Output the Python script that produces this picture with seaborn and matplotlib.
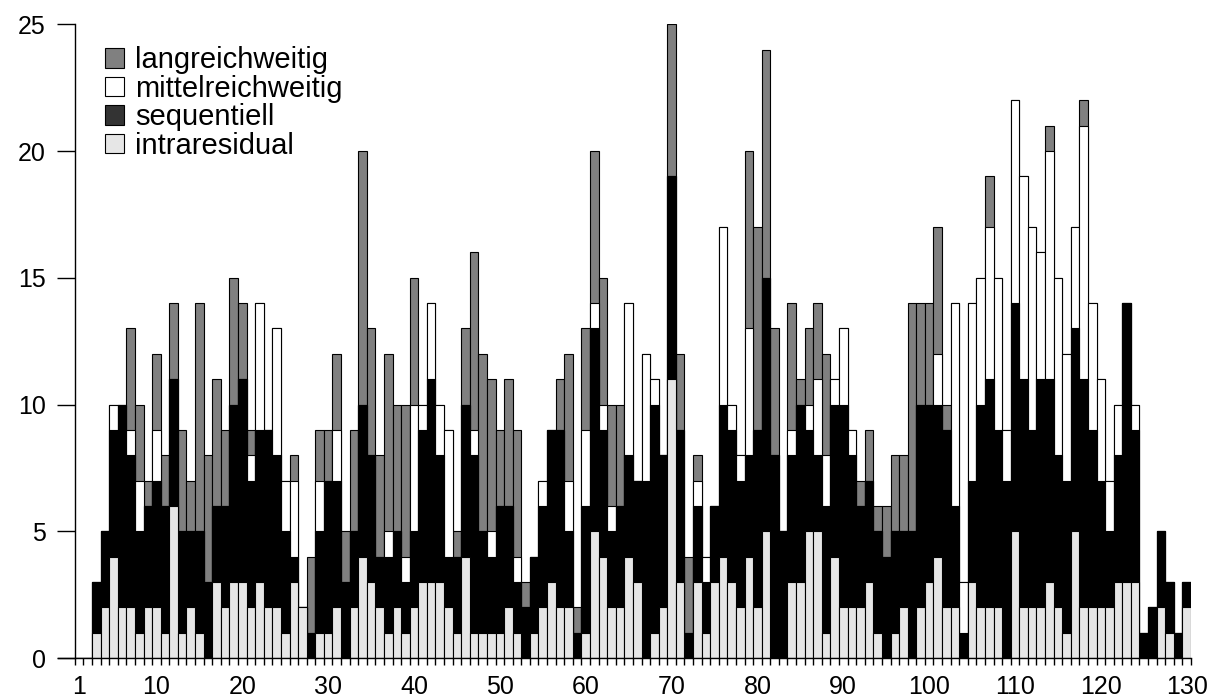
import numpy as np
import pandas as pd
import matplotlib
matplotlib.use("Agg")
import matplotlib.pyplot as plt
import seaborn as sns
from matplotlib.patches import Patch

# ---------------- data ----------------
positions = list(range(1, 131))

intraresidual = [0, 0, 1, 2, 4, 2, 2, 1, 2, 2, 1, 6, 1, 2, 1, 0, 3, 2, 3, 3,
                 2, 3, 2, 2, 1, 3, 2, 0, 1, 1, 2, 0, 2, 4, 3, 2, 1, 2, 1, 2,
                 3, 3, 3, 2, 1, 4, 1, 1, 1, 1, 2, 1, 0, 1, 2, 3, 2, 2, 0, 1,
                 5, 4, 2, 2, 4, 3, 0, 1, 2, 11, 3, 0, 3, 1, 3, 4, 3, 2, 4, 2,
                 5, 0, 0, 3, 3, 5, 5, 1, 4, 2, 2, 2, 3, 1, 0, 1, 2, 0, 2, 3,
                 4, 2, 2, 0, 3, 2, 2, 2, 0, 5, 2, 2, 2, 3, 2, 1, 5, 2, 2, 2,
                 2, 3, 3, 3, 0, 0, 2, 1, 0, 2]

sequentiell = [0, 0, 2, 3, 5, 8, 6, 4, 4, 5, 5, 5, 4, 3, 4, 3, 3, 4, 7, 8,
               5, 6, 7, 6, 4, 1, 0, 1, 4, 6, 5, 3, 3, 6, 5, 2, 3, 3, 2, 3,
               6, 8, 5, 2, 3, 6, 7, 4, 3, 5, 4, 2, 2, 3, 4, 6, 7, 3, 1, 5,
               8, 5, 3, 4, 4, 4, 7, 9, 6, 8, 6, 1, 3, 2, 3, 6, 6, 5, 4, 7,
               10, 8, 5, 5, 7, 4, 3, 5, 6, 8, 6, 4, 4, 4, 4, 4, 3, 5, 8, 7,
               6, 7, 4, 1, 4, 8, 9, 7, 7, 9, 9, 7, 9, 8, 6, 6, 8, 9, 7, 5,
               3, 5, 11, 6, 1, 2, 3, 2, 1, 1]

mittelreichweitig = [0, 0, 0, 0, 1, 0, 1, 2, 0, 2, 0, 0, 0, 0, 0, 0, 0, 0, 0, 0,
                     1, 5, 0, 5, 2, 3, 0, 0, 2, 0, 2, 0, 0, 0, 0, 0, 1, 0, 1, 5,
                     1, 3, 2, 5, 0, 0, 1, 0, 1, 0, 0, 1, 0, 0, 1, 0, 0, 2, 0, 3,
                     1, 1, 1, 0, 6, 0, 5, 1, 0, 0, 0, 0, 1, 1, 0, 7, 1, 1, 5, 0,
                     0, 0, 0, 1, 0, 1, 3, 2, 1, 3, 1, 0, 0, 0, 0, 0, 0, 0, 0, 0,
                     2, 0, 8, 2, 7, 5, 6, 6, 2, 8, 8, 8, 5, 9, 7, 5, 4, 10, 5, 4,
                     2, 2, 0, 1, 0, 0, 0, 0, 0, 0]

langreichweitig = [0, 0, 0, 0, 0, 0, 4, 3, 1, 3, 2, 3, 4, 2, 9, 5, 5, 3, 5, 3,
                   1, 0, 0, 0, 0, 1, 0, 3, 2, 2, 3, 2, 4, 10, 5, 4, 7, 5, 6, 5,
                   0, 0, 0, 0, 1, 3, 7, 7, 6, 3, 5, 5, 1, 0, 0, 0, 2, 5, 1, 4,
                   6, 5, 4, 4, 0, 0, 0, 0, 0, 6, 3, 3, 1, 0, 0, 0, 0, 0, 7, 8,
                   9, 5, 0, 5, 1, 3, 3, 4, 0, 0, 0, 1, 2, 1, 2, 3, 3, 9, 4, 4,
                   5, 1, 0, 0, 0, 0, 2, 0, 0, 0, 0, 0, 0, 1, 0, 0, 0, 1, 0, 0,
                   0, 0, 0, 0, 0, 0, 0, 0, 0, 0]

series_labels = ["langreichweitig", "mittelreichweitig", "sequentiell", "intraresidual"]
x_tick_labels = [1, 10, 20, 30, 40, 50, 60, 70, 80, 90, 100, 110, 120, 130]
y_tick_values = [0, 5, 10, 15, 20, 25]

# ---------------- styling ----------------
sns.set_theme(style="white")
plt.rcParams['font.family'] = ['Liberation Sans', 'DejaVu Sans']
plt.rcParams['text.color'] = 'black'
plt.rcParams['xtick.color'] = 'black'
plt.rcParams['ytick.color'] = 'black'
plt.rcParams['axes.labelcolor'] = 'black'

col_lang = "#808080"
col_mittel = "#ffffff"
col_seq = "#000000"
col_intra = "#e6e6e6"

df = pd.DataFrame({
    "pos": positions,
    "intraresidual": intraresidual,
    "sequentiell": sequentiell,
    "mittelreichweitig": mittelreichweitig,
    "langreichweitig": langreichweitig,
})
df["c1"] = df["intraresidual"]
df["c2"] = df["c1"] + df["sequentiell"]
df["c3"] = df["c2"] + df["mittelreichweitig"]
df["c4"] = df["c3"] + df["langreichweitig"]

W, H = 1221, 700
fig = plt.figure(figsize=(W / 100, H / 100), dpi=100)
ax = fig.add_axes([57.7 / W, 42 / H, (1191 - 57.7) / W, (658 - 24.3) / H])

layers = [("c4", col_lang), ("c3", col_mittel), ("c2", col_seq), ("c1", col_intra)]
for col, color in layers:
    sns.barplot(data=df, x="pos", y=col, native_scale=True, color=color,
                saturation=1, edgecolor="black", linewidth=0.8, width=1.0,
                errorbar=None, ax=ax)

ax.set_xlim(-1.5, 130.5)
ax.set_ylim(0, 25)
ax.set_xlabel("")
ax.set_ylabel("")

for s in ["top", "right"]:
    ax.spines[s].set_visible(False)
ax.spines["left"].set_position(("data", 0.5))
ax.spines["left"].set_bounds(0, 25)
ax.spines["left"].set_linewidth(1.0)
ax.spines["bottom"].set_linewidth(1.0)
ax.spines["left"].set_color("black")
ax.spines["bottom"].set_color("black")

ax.set_xticks(x_tick_labels)
ax.set_xticklabels([str(v) for v in x_tick_labels], fontsize=18)
ax.set_xticks(np.arange(0.5, 131, 1.0), minor=True)
ax.tick_params(axis="x", which="major", length=0, pad=12)
ax.tick_params(axis="x", which="minor", length=5, width=1.0, color="black",
               direction="out", bottom=True)

ax.set_yticks(y_tick_values)
ax.set_yticklabels([str(v) for v in y_tick_values], fontsize=18)
ax.tick_params(axis="y", which="major", length=13, width=1.0, color="black",
               direction="out", left=True, pad=8)

handles = [Patch(facecolor=c, edgecolor="black", linewidth=0.8)
           for c in [col_lang, col_mittel, "#333333", col_intra]]
leg = ax.legend(handles, series_labels, loc="upper left",
                bbox_to_anchor=(105 / W, 1 - 46 / H), bbox_transform=fig.transFigure,
                frameon=False, fontsize=21, handlelength=0.66, handleheight=0.66,
                handletextpad=0.37, labelspacing=0.02, borderpad=0, borderaxespad=0)
for t in leg.get_texts():
    t.set_color("black")

fig.savefig("out.png", dpi=100)
